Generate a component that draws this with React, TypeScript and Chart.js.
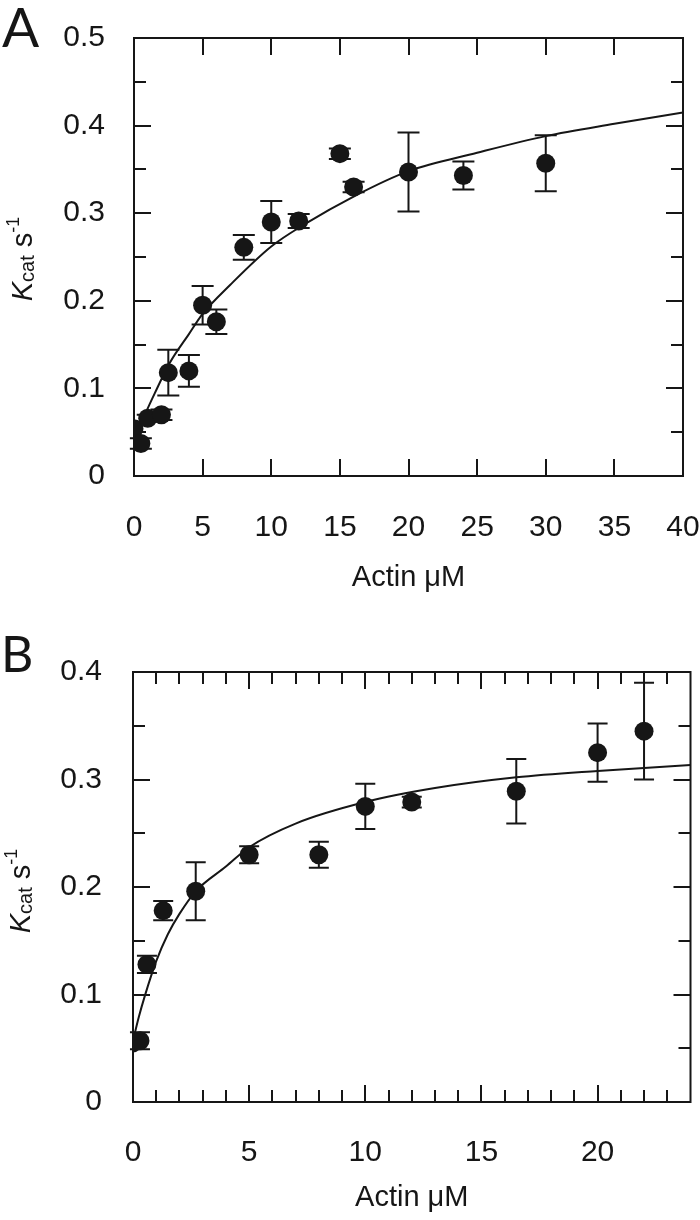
import React, { useEffect, useRef } from "react";
import { Chart, registerables } from "chart.js";

Chart.register(...registerables);

// ---------------- Panel A data ----------------
const actinA = [0, 0.5, 1, 2, 2.5, 4, 5, 6, 8, 10, 12, 15, 16, 20, 24, 30];
const kcatA = [0.054, 0.037, 0.066, 0.07, 0.118, 0.12, 0.195, 0.176, 0.261, 0.29, 0.291, 0.368, 0.33, 0.347, 0.343, 0.357];
const errA = [0, 0.006, 0.004, 0.006, 0.026, 0.018, 0.022, 0.014, 0.014, 0.024, 0.008, 0.006, 0.006, 0.045, 0.016, 0.032];
const fitActinA = [0.7, 1.5, 2.6, 4, 5, 7, 10, 12.5, 16, 20, 25, 30, 35, 40];
const fitKcatA = [0.067, 0.094, 0.129, 0.162, 0.185, 0.218, 0.262, 0.288, 0.319, 0.348, 0.369, 0.388, 0.402, 0.415];
const xTicksA = [0, 5, 10, 15, 20, 25, 30, 35, 40];
const xTickLabelsA = ["0", "5", "10", "15", "20", "25", "30", "35", "40"];
const xMinorA: number[] = [];
const yTicksA = [0, 0.1, 0.2, 0.3, 0.4, 0.5];
const yTickLabelsA = ["0", "0.1", "0.2", "0.3", "0.4", "0.5"];
const yMinorA = [0.05, 0.15, 0.25, 0.35, 0.45];

// ---------------- Panel B data ----------------
const actinB = [0, 0.3, 0.6, 1.3, 2.7, 5, 8, 10, 12, 16.5, 20, 22];
const kcatB = [0.055, 0.057, 0.128, 0.178, 0.196, 0.23, 0.23, 0.275, 0.279, 0.289, 0.325, 0.345];
const errB = [0, 0.008, 0.008, 0.009, 0.027, 0.008, 0.012, 0.021, 0.005, 0.03, 0.027, 0.045];
const fitActinB = [0, 0.25, 0.5, 1, 1.5, 2, 2.7, 4, 5, 7, 10, 13, 16.5, 20, 24];
const fitKcatB = [0.057, 0.079, 0.098, 0.131, 0.156, 0.175, 0.196, 0.219, 0.237, 0.259, 0.279, 0.292, 0.302, 0.308, 0.3135];
const xTicksB = [0, 5, 10, 15, 20];
const xTickLabelsB = ["0", "5", "10", "15", "20"];
const xMinorB = [1, 2, 3, 4, 6, 7, 8, 9, 11, 12, 13, 14, 16, 17, 18, 19, 21, 22, 23];
const yTicksB = [0, 0.1, 0.2, 0.3, 0.4];
const yTickLabelsB = ["0", "0.1", "0.2", "0.3", "0.4"];
const yMinorB = [0.05, 0.15, 0.25, 0.35];

const xTitle = "Actin \u03bcM";

const FONT = "'Liberation Sans', Arial, sans-serif";
const LETTER_FONT = "Lato, 'Open Sans', sans-serif";
const INK = "#161616";
const CANVAS_W = 700;
const CANVAS_H = 610;
const TICK_SIZE = 30;
const TITLE_SIZE = 29;

type Cfg = {
  letter: string;
  letterSize: number;
  letterX: number;
  letterY: number;
  x: number[];
  y: number[];
  err: number[];
  fitX: number[];
  fitY: number[];
  xMax: number;
  yMax: number;
  xTicks: number[];
  xTickLabels: string[];
  xMinor: number[];
  yTicks: number[];
  yTickLabels: string[];
  yMinor: number[];
  area: { left: number; top: number; right: number; bottom: number };
  xPad: number;
  yPad: number;
  xTitlePad: number;
  yTitleX: number;
  yTitleShift: number;
  cap: number;
};

const cfgA: Cfg = {
  letter: "A",
  letterSize: 55,
  letterX: 2,
  letterY: 47,
  x: actinA,
  y: kcatA,
  err: errA,
  fitX: fitActinA,
  fitY: fitKcatA,
  xMax: 40,
  yMax: 0.5,
  xTicks: xTicksA,
  xTickLabels: xTickLabelsA,
  xMinor: xMinorA,
  yTicks: yTicksA,
  yTickLabels: yTickLabelsA,
  yMinor: yMinorA,
  area: { left: 134, top: 38, right: 683, bottom: 476 },
  xPad: 34,
  yPad: 29,
  xTitlePad: 15,
  yTitleX: 32,
  yTitleShift: 2,
  cap: 11,
};

const cfgB: Cfg = {
  letter: "B",
  letterSize: 50,
  letterX: 1,
  letterY: 62,
  x: actinB,
  y: kcatB,
  err: errB,
  fitX: fitActinB,
  fitY: fitKcatB,
  xMax: 24,
  yMax: 0.4,
  xTicks: xTicksB,
  xTickLabels: xTickLabelsB,
  xMinor: xMinorB,
  yTicks: yTicksB,
  yTickLabels: yTickLabelsB,
  yMinor: yMinorB,
  area: { left: 133, top: 62, right: 692, bottom: 492 },
  xPad: 33,
  yPad: 31,
  xTitlePad: 5,
  yTitleX: 30,
  yTitleShift: 4,
  cap: 10,
};

function drawYTitle(ctx: CanvasRenderingContext2D, x: number, yc: number) {
  const parts = [
    { t: "K", f: `italic 29px ${FONT}`, dy: 0 },
    { t: "cat", f: `20px ${FONT}`, dy: 2 },
    { t: " s", f: `29px ${FONT}`, dy: 0 },
    { t: "-1", f: `18px ${FONT}`, dy: -13 },
  ];
  ctx.save();
  ctx.translate(x, yc);
  ctx.rotate(-Math.PI / 2);
  ctx.fillStyle = INK;
  ctx.textBaseline = "alphabetic";
  ctx.textAlign = "left";
  const widths = parts.map((p) => {
    ctx.font = p.f;
    return ctx.measureText(p.t).width;
  });
  const total = widths.reduce((a, b) => a + b, 0);
  let cx = -total / 2;
  parts.forEach((p, i) => {
    ctx.font = p.f;
    ctx.fillText(p.t, cx, p.dy);
    cx += widths[i];
  });
  ctx.restore();
}

function makePlugin(cfg: Cfg) {
  return {
    id: "panelDecor" + cfg.letter,
    beforeDatasetsDraw(chart: any) {
      const ctx: CanvasRenderingContext2D = chart.ctx;
      const xs = chart.scales.x;
      const ys = chart.scales.y;
      ctx.save();
      ctx.strokeStyle = INK;
      ctx.lineWidth = 2;
      cfg.x.forEach((xv, i) => {
        const e = cfg.err[i];
        if (!e) return;
        const px = xs.getPixelForValue(xv);
        const pTop = ys.getPixelForValue(cfg.y[i] + e);
        const pBot = ys.getPixelForValue(cfg.y[i] - e);
        ctx.beginPath();
        ctx.moveTo(px, pTop);
        ctx.lineTo(px, pBot);
        ctx.moveTo(px - cfg.cap, pTop);
        ctx.lineTo(px + cfg.cap, pTop);
        ctx.moveTo(px - cfg.cap, pBot);
        ctx.lineTo(px + cfg.cap, pBot);
        ctx.stroke();
      });
      ctx.restore();
    },
    afterDraw(chart: any) {
      const ctx: CanvasRenderingContext2D = chart.ctx;
      const { left, top, right, bottom } = chart.chartArea;
      const xs = chart.scales.x;
      const ys = chart.scales.y;
      ctx.save();
      ctx.strokeStyle = INK;
      ctx.lineWidth = 2;
      ctx.strokeRect(left, top, right - left, bottom - top);
      const MAJ = 17;
      const MIN = 12;
      ctx.beginPath();
      const xt = (v: number, len: number) => {
        if (v <= 0 || v >= cfg.xMax) return;
        const p = Math.round(xs.getPixelForValue(v));
        ctx.moveTo(p, bottom);
        ctx.lineTo(p, bottom - len);
        ctx.moveTo(p, top);
        ctx.lineTo(p, top + len);
      };
      const yt = (v: number, len: number) => {
        if (v <= 0 || v >= cfg.yMax) return;
        const p = Math.round(ys.getPixelForValue(v));
        ctx.moveTo(left, p);
        ctx.lineTo(left + len, p);
        ctx.moveTo(right, p);
        ctx.lineTo(right - len, p);
      };
      cfg.xTicks.forEach((v) => xt(v, MAJ));
      cfg.xMinor.forEach((v) => xt(v, MIN));
      cfg.yTicks.forEach((v) => yt(v, MAJ));
      cfg.yMinor.forEach((v) => yt(v, MIN));
      ctx.stroke();
      ctx.restore();

      drawYTitle(ctx, cfg.yTitleX, (top + bottom) / 2 + cfg.yTitleShift);

      ctx.save();
      ctx.fillStyle = INK;
      ctx.font = `${cfg.letterSize}px ${LETTER_FONT}`;
      ctx.textBaseline = "alphabetic";
      ctx.textAlign = "left";
      ctx.fillText(cfg.letter, cfg.letterX, cfg.letterY);
      ctx.restore();
    },
  };
}

function Panel({ cfg, top }: { cfg: Cfg; top: number }) {
  const ref = useRef<HTMLCanvasElement>(null);
  useEffect(() => {
    const canvas = ref.current!;
    const chart = new Chart(canvas, {
      type: "scatter",
      data: {
        datasets: [
          {
            data: cfg.x.map((v, i) => ({ x: v, y: cfg.y[i] })),
            pointRadius: 9.5,
            pointHoverRadius: 9.5,
            pointBackgroundColor: INK,
            backgroundColor: INK,
            pointBorderWidth: 0,
            borderWidth: 0,
          },
          {
            data: cfg.fitX.map((v, i) => ({ x: v, y: cfg.fitY[i] })),
            showLine: true,
            pointRadius: 0,
            pointHoverRadius: 0,
            borderColor: INK,
            borderWidth: 2,
            cubicInterpolationMode: "monotone",
            fill: false,
          },
        ],
      } as any,
      options: {
        responsive: false,
        animation: false,
        devicePixelRatio: 1,
        events: [],
        layout: {
          padding: { top: cfg.area.top, right: CANVAS_W - cfg.area.right, left: 0, bottom: 0 },
        },
        plugins: { legend: { display: false }, tooltip: { enabled: false } },
        scales: {
          x: {
            type: "linear",
            min: 0,
            max: cfg.xMax,
            grid: { display: false, drawTicks: false },
            border: { display: false },
            afterBuildTicks: (s: any) => {
              s.ticks = cfg.xTicks.map((v) => ({ value: v }));
            },
            ticks: {
              padding: cfg.xPad,
              color: INK,
              font: { family: FONT, size: TICK_SIZE },
              maxRotation: 0,
              autoSkip: false,
              callback: (_v: any, i: number) => cfg.xTickLabels[i],
            },
            title: {
              display: true,
              text: xTitle,
              color: INK,
              font: { family: FONT, size: TITLE_SIZE },
              padding: { top: 0, bottom: cfg.xTitlePad },
            },
            afterFit: (s: any) => {
              s.height = CANVAS_H - cfg.area.bottom;
              s.paddingLeft = 0;
              s.paddingRight = 0;
            },
          },
          y: {
            type: "linear",
            min: 0,
            max: cfg.yMax,
            grid: { display: false, drawTicks: false },
            border: { display: false },
            afterBuildTicks: (s: any) => {
              s.ticks = cfg.yTicks.map((v) => ({ value: v }));
            },
            ticks: {
              padding: cfg.yPad,
              color: INK,
              font: { family: FONT, size: TICK_SIZE },
              autoSkip: false,
              callback: (_v: any, i: number) => cfg.yTickLabels[i],
            },
            afterFit: (s: any) => {
              s.width = cfg.area.left;
              s.paddingTop = 0;
              s.paddingBottom = 0;
            },
          },
        },
      } as any,
      plugins: [makePlugin(cfg)],
    });
    return () => chart.destroy();
  }, [cfg]);
  return (
    <canvas
      ref={ref}
      width={CANVAS_W}
      height={CANVAS_H}
      style={{ position: "absolute", left: 0, top, width: CANVAS_W, height: CANVAS_H, display: "block" }}
    />
  );
}

export default function App() {
  return (
    <div style={{ position: "absolute", left: 0, top: 0, width: 700, height: 1220, background: "#ffffff" }}>
      <Panel cfg={cfgA} top={0} />
      <Panel cfg={cfgB} top={610} />
    </div>
  );
}
